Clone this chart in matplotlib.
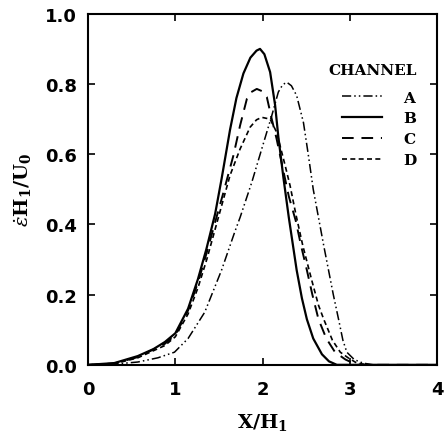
import numpy as np
import matplotlib
matplotlib.use("Agg")
import matplotlib.pyplot as plt

# channel A (dash-dot-dot)
xa = [0, 0.3, 0.57, 0.8, 0.99, 1.146, 1.337, 1.53, 1.68, 1.742, 1.876, 1.99, 2.105, 2.18, 2.23,
      2.277, 2.33, 2.39, 2.468, 2.525, 2.58, 2.64, 2.70, 2.755, 2.81, 2.87, 2.92, 2.965, 3.05,
      3.15, 3.27, 4.0]
ya = [0, 0.002, 0.008, 0.02, 0.036, 0.075, 0.15, 0.27, 0.378, 0.42, 0.52, 0.615, 0.71, 0.777, 0.798,
      0.805, 0.795, 0.767, 0.69, 0.596, 0.50, 0.42, 0.34, 0.27, 0.20, 0.13, 0.07, 0.036, 0.015,
      0.005, 0, 0]

# channel B (solid)
xb = [0, 0.3, 0.57, 0.75, 0.88, 1.0, 1.146, 1.26, 1.356, 1.456, 1.53, 1.627, 1.70, 1.78, 1.86,
      1.93, 1.97, 2.02, 2.086, 2.143, 2.18, 2.24, 2.30, 2.39, 2.45, 2.507, 2.58, 2.68, 2.76,
      2.85, 4.0]
yb = [0, 0.005, 0.025, 0.045, 0.065, 0.09, 0.16, 0.245, 0.33, 0.43, 0.53, 0.67, 0.76, 0.83, 0.875,
      0.895, 0.90, 0.885, 0.834, 0.74, 0.65, 0.53, 0.42, 0.27, 0.19, 0.13, 0.075, 0.03, 0.01,
      0, 0]

# channel C (long dash)
xc = [0, 0.3, 0.57, 0.88, 1.0, 1.146, 1.26, 1.36, 1.46, 1.55, 1.665, 1.742, 1.82, 1.87, 1.933,
      1.99, 2.048, 2.105, 2.16, 2.24, 2.30, 2.38, 2.44, 2.507, 2.57, 2.64, 2.73, 2.83, 2.95,
      3.08, 4.0]
yc = [0, 0.004, 0.022, 0.06, 0.085, 0.155, 0.235, 0.32, 0.41, 0.49, 0.596, 0.682, 0.758, 0.777, 0.786,
      0.78, 0.763, 0.70, 0.644, 0.55, 0.48, 0.41, 0.34, 0.27, 0.20, 0.13, 0.075, 0.036, 0.015,
      0, 0]

# channel D (short dash)
xd = [0, 0.3, 0.57, 0.88, 1.0, 1.146, 1.26, 1.36, 1.51, 1.627, 1.742, 1.857, 1.93, 1.99, 2.086,
      2.16, 2.258, 2.315, 2.38, 2.46, 2.564, 2.64, 2.70, 2.80, 2.89, 2.98, 3.08, 3.2, 4.0]
yd = [0, 0.003, 0.02, 0.055, 0.08, 0.145, 0.22, 0.30, 0.435, 0.54, 0.615, 0.677, 0.698, 0.705, 0.70,
      0.663, 0.568, 0.51, 0.43, 0.34, 0.24, 0.17, 0.13, 0.07, 0.036, 0.02, 0.005, 0, 0]

xticks = [0, 1, 2, 3, 4]
yticks = [0.0, 0.2, 0.4, 0.6, 0.8, 1.0]

plt.rcParams['mathtext.fontset'] = 'dejavuserif'

fig = plt.figure(figsize=(4.47, 4.35), dpi=100)
ax = fig.add_axes([0.197, 0.159, 0.781, 0.807])

ax.plot(xa, ya, color='black', lw=1.1, ls=(0, (6, 2, 1, 2, 1, 2)), label='A')
ax.plot(xb, yb, color='black', lw=1.6, ls='-', label='B')
ax.plot(xc, yc, color='black', lw=1.4, ls=(0, (6, 4)), label='C')
ax.plot(xd, yd, color='black', lw=1.2, ls=(0, (3, 2)), label='D')

ax.set_xlim(0, 4)
ax.set_ylim(0, 1.0)
ax.set_xticks(xticks)
ax.set_yticks(yticks)
ax.set_xticklabels([str(t) for t in xticks], fontsize=13, fontweight='bold')
ax.set_yticklabels(['%.1f' % t for t in yticks], fontsize=13, fontweight='bold')
ax.tick_params(direction='in', top=True, right=True, length=5, width=1.2, pad=8)
ax.tick_params(axis='x', pad=11)
for s in ax.spines.values():
    s.set_linewidth(1.5)

ax.set_xlabel(r'$\mathbf{X/H_1}$', fontsize=14, labelpad=9)
ax.set_ylabel(r'$\dot{\epsilon}\mathbf{H_1/U_0}$', fontsize=14, labelpad=8)

leg = ax.legend(title='CHANNEL', loc='upper right', bbox_to_anchor=(0.98, 0.90),
                frameon=False, handlelength=2.6, handletextpad=1.4, labelspacing=0.45,
                prop={'family': 'DejaVu Serif', 'weight': 'bold', 'size': 11},
                title_fontproperties={'family': 'DejaVu Serif', 'weight': 'bold', 'size': 11})
leg._legend_box.align = 'right'
leg._legend_box.sep = 10

fig.savefig('out.png', dpi=100)
